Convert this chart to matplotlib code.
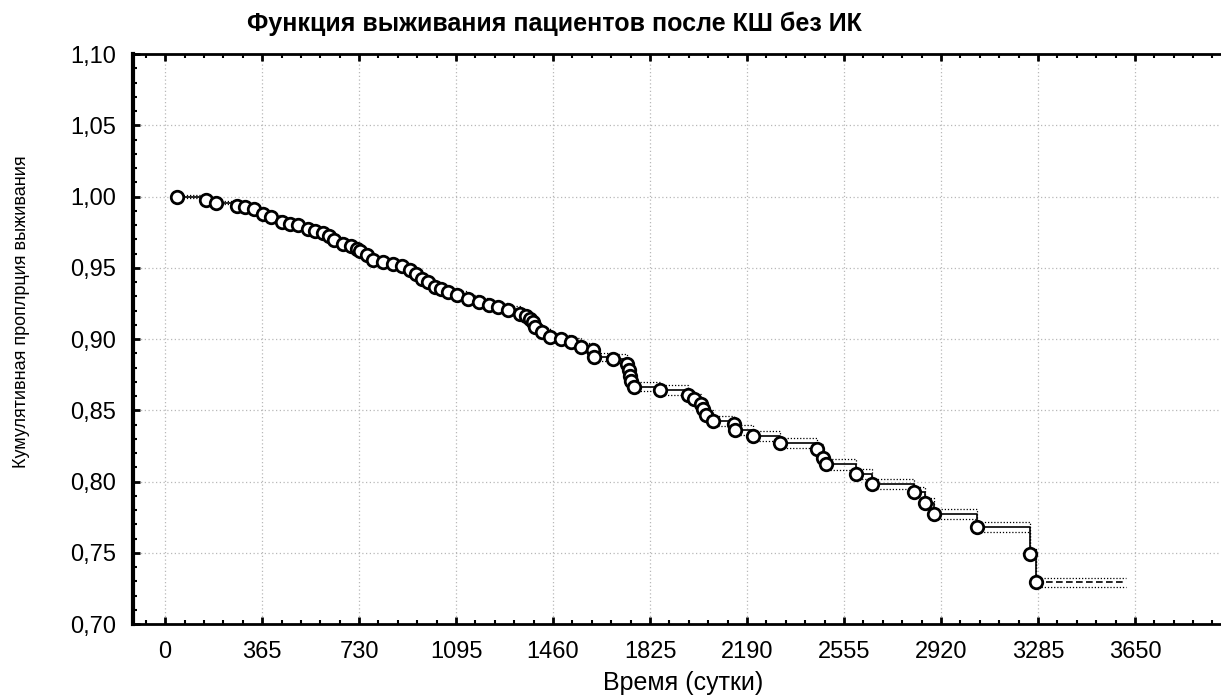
import numpy as np
import matplotlib
matplotlib.use('Agg')
import matplotlib.pyplot as plt
import matplotlib.ticker as ticker

plt.rcParams['font.family'] = ['Liberation Sans', 'DejaVu Sans']

# Kaplan-Meier estimate (days, cumulative survival)
days = [46, 154, 192, 270, 300, 335, 369, 400, 439, 470,
        499, 537, 565, 593, 615, 636, 670, 700, 721, 735,
        760, 783, 820, 858, 890, 922, 945, 966, 990, 1016,
        1040, 1065, 1100, 1139, 1183, 1220, 1252, 1290, 1336, 1360,
        1373, 1385, 1392, 1420, 1449, 1490, 1528, 1565, 1609, 1615,
        1685, 1737, 1744, 1748, 1752, 1763, 1864, 1968, 1990, 2016,
        2025, 2036, 2061, 2140, 2145, 2214, 2314, 2453, 2475, 2487,
        2602, 2662, 2818, 2861, 2895, 3055, 3254, 3277]
surv = [1.000, 0.9975, 0.9956, 0.9935, 0.9925, 0.991, 0.9876, 0.9855, 0.9822, 0.981,
        0.980, 0.9776, 0.976, 0.9741, 0.972, 0.9694, 0.967, 0.9655, 0.9635, 0.962,
        0.959, 0.9553, 0.954, 0.953, 0.951, 0.9483, 0.946, 0.9425, 0.940, 0.9366,
        0.935, 0.933, 0.931, 0.9284, 0.926, 0.924, 0.9225, 0.9202, 0.9179, 0.916,
        0.9144, 0.912, 0.9085, 0.905, 0.9015, 0.900, 0.898, 0.8944, 0.8921, 0.8874,
        0.8863, 0.8826, 0.8784, 0.8744, 0.8709, 0.8666, 0.8643, 0.861, 0.858, 0.8545,
        0.8509, 0.8469, 0.8427, 0.8404, 0.8361, 0.8321, 0.8274, 0.8227, 0.8168, 0.8121,
        0.8055, 0.7985, 0.7928, 0.785, 0.7774, 0.7682, 0.7492, 0.7294]
# half width of the dotted confidence limits around each step
ci_half = [0.0008, 0.0010, 0.0010, 0.0012, 0.0013, 0.0014, 0.0015, 0.0016, 0.0017, 0.0018,
           0.0018, 0.0019, 0.0019, 0.0020, 0.0020, 0.0020, 0.0021, 0.0021, 0.0021, 0.0022,
           0.0022, 0.0022, 0.0023, 0.0023, 0.0023, 0.0024, 0.0024, 0.0024, 0.0025, 0.0025,
           0.0025, 0.0026, 0.0026, 0.0026, 0.0027, 0.0027, 0.0027, 0.0028, 0.0028, 0.0028,
           0.0029, 0.0029, 0.0029, 0.0030, 0.0030, 0.0030, 0.0030, 0.0031, 0.0031, 0.0031,
           0.0031, 0.0032, 0.0032, 0.0032, 0.0032, 0.0033, 0.0033, 0.0033, 0.0033, 0.0034,
           0.0034, 0.0034, 0.0034, 0.0035, 0.0035, 0.0035, 0.0035, 0.0036, 0.0036, 0.0036,
           0.0036, 0.0037, 0.0037, 0.0037, 0.0037, 0.0038, 0.0038, 0.0033]
tail_end = 3615  # last follow-up day, curve stays flat after last event

title = 'Функция выживания пациентов после КШ без ИК'
xlabel = 'Время (сутки)'
ylabel = 'Кумулятивная проплрция выживания'
xticks = [0, 365, 730, 1095, 1460, 1825, 2190, 2555, 2920, 3285, 3650]
yticks = [0.70, 0.75, 0.80, 0.85, 0.90, 0.95, 1.00, 1.05, 1.10]

x = np.array(days + [tail_end])
y = np.array(surv + [surv[-1]])
h = np.array(ci_half + [ci_half[-1]])

fig = plt.figure(figsize=(12.21, 6.99), dpi=100)
ax = fig.add_axes([0.1087, 0.107, 0.8913, 0.8157])

ax.grid(True, which='major', color='#b8b8b8', linestyle=(0, (1, 2)), linewidth=0.9)

# confidence limits
ax.step(x, y + h, where='post', color='black', linestyle=(0, (1, 1.5)), linewidth=0.9)
ax.step(x, y - h, where='post', color='black', linestyle=(0, (1, 1.5)), linewidth=0.9)
# survival curve
ax.step(x[:-1], y[:-1], where='post', color='black', linewidth=1.2)
ax.plot(x[-2:], y[-2:], color='black', linestyle=(0, (4, 2)), linewidth=1.2)
ax.plot(days, surv, linestyle='none', marker='o', markersize=9,
        markerfacecolor='white', markeredgecolor='black', markeredgewidth=2)

ax.set_xlim(-122, 3974)
ax.set_ylim(0.70, 1.10)
ax.set_xticks(xticks)
ax.set_yticks(yticks)
ax.xaxis.set_minor_locator(ticker.MultipleLocator(73))
ax.yaxis.set_minor_locator(ticker.MultipleLocator(0.01))
ax.yaxis.set_major_formatter(ticker.FuncFormatter(lambda v, p: f'{v:.2f}'.replace('.', ',')))

ax.tick_params(which='both', direction='in', top=True, right=False, color='black')
ax.tick_params(which='major', length=5, width=2)
ax.tick_params(which='minor', length=3, width=1.5)
ax.tick_params(axis='x', which='major', pad=12, labelsize=17)
ax.tick_params(axis='y', which='major', pad=12, labelsize=17)

ax.spines['left'].set_linewidth(3)
ax.spines['bottom'].set_linewidth(2)
ax.spines['top'].set_linewidth(2)
ax.spines['right'].set_visible(False)

fig.text(554 / 1221, 1 - 24 / 699, title, ha='center', va='center',
         fontsize=18, fontweight='bold')
fig.text(683 / 1221, 1 - 683 / 699, xlabel, ha='center', va='center', fontsize=18)
fig.text(22 / 1221, 1 - 312 / 699, ylabel, ha='center', va='center', rotation=90,
         fontsize=13, family=['Liberation Sans Narrow', 'Liberation Sans'])

fig.savefig('out.png', dpi=100)
